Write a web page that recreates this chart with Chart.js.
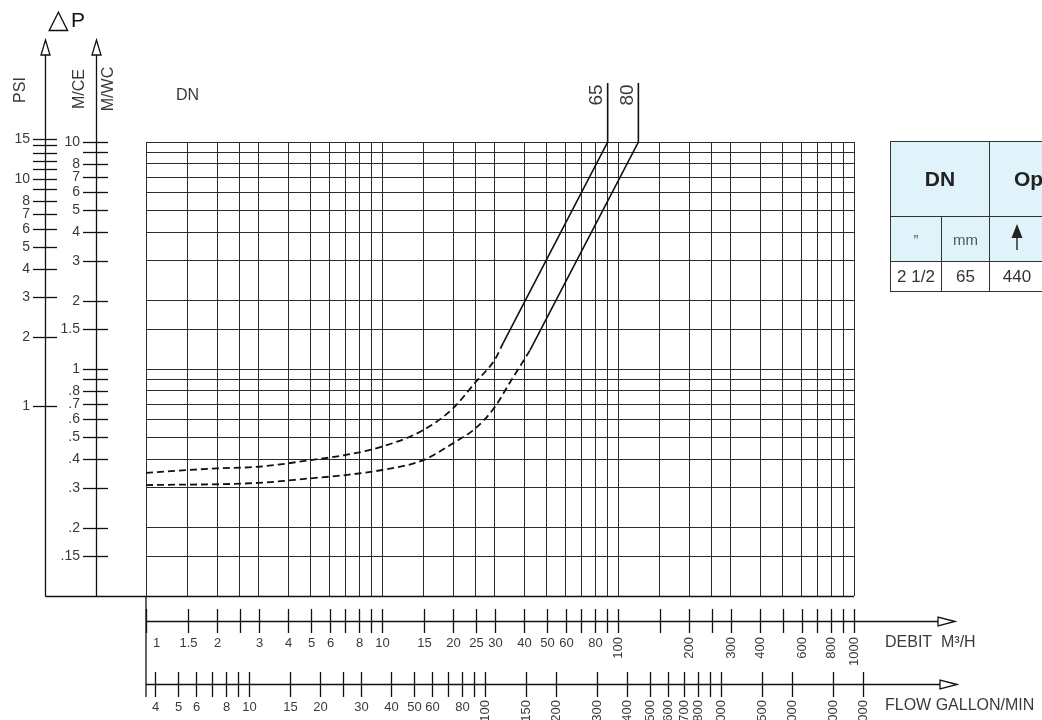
<!DOCTYPE html>
<html>
<head>
<meta charset="utf-8">
<title>DN 65 / DN 80 pressure loss</title>
<script src="https://cdn.jsdelivr.net/npm/chart.js@4.4.0/dist/chart.umd.min.js"></script>
<style>
  html, body { margin: 0; padding: 0; background: #fff; }
  #wrap { position: relative; width: 1042px; height: 720px; overflow: hidden; }
  #chart { position: absolute; left: 0; top: 0; }
  table.dn {
    position: absolute; left: 890px; top: 141px; width: 274px;
    border-collapse: collapse; table-layout: fixed;
    font-family: "Liberation Sans", Arial, sans-serif; color: #333;
  }
  table.dn td { border: 1px solid #333; padding: 0; text-align: center; vertical-align: middle; white-space: nowrap; }
  table.dn tr.head td { background: #e0f2fa; }
  table.dn td.big { font-size: 21px; font-weight: bold; color: #222; }
  table.dn td.op { text-align: left; padding-left: 24px; }
  table.dn td.unit { font-size: 15px; color: #555; }
  table.dn td.val { font-size: 17px; }
</style>
</head>
<body>
<div id="wrap">
  <canvas id="chart" width="1042" height="720"></canvas>
  <table class="dn">
    <colgroup><col style="width:51px"><col style="width:48px"><col style="width:55px"><col style="width:120px"></colgroup>
    <tr class="head" style="height:75px"><td class="big" colspan="2">DN</td><td class="big op" colspan="2">Op</td></tr>
    <tr class="head" style="height:45px">
      <td class="unit">&rdquo;</td><td class="unit">mm</td>
      <td><svg width="12" height="26" viewBox="0 0 12 26"><polygon points="6,0 11.5,14 0.5,14" fill="#222"/><line x1="6" y1="12" x2="6" y2="26" stroke="#222" stroke-width="1.4"/></svg></td>
      <td></td>
    </tr>
    <tr style="height:30px"><td class="val">2 1/2</td><td class="val">65</td><td class="val">440</td><td></td></tr>
  </table>
</div>
<script>
// grid of the chart (flow in m3/h, pressure loss in m of water column)
const gridFlow = [1, 1.5, 2, 2.5, 3, 4, 5, 6, 7, 8, 9, 10, 15, 20, 25, 30, 40, 50, 60, 70, 80, 90,
                  100, 150, 200, 250, 300, 400, 500, 600, 700, 800, 900, 1000];
const debitLabels = ['1', '1.5', '2', '', '3', '4', '5', '6', '', '8', '', '10', '15', '20', '25', '30', '40', '50', '60', '', '80', '',
                     '100', '', '200', '', '300', '400', '', '600', '', '800', '', '1000'];
const gridLoss = [0.15, 0.2, 0.3, 0.4, 0.5, 0.6, 0.7, 0.8, 0.9, 1, 1.5, 2, 3, 4, 5, 6, 7, 8, 9, 10];
const lossLabels = ['.15', '.2', '.3', '.4', '.5', '.6', '.7', '.8', '', '1', '1.5', '2', '3', '4', '5', '6', '7', '8', '', '10'];

// secondary scales
const psiValues = [1, 2, 3, 4, 5, 6, 7, 8, 9, 10, 11, 12, 13, 14, 15];
const psiLabels = ['1', '2', '3', '4', '5', '6', '7', '8', '', '10', '', '', '', '', '15'];
const gallonValues = [4, 5, 6, 7, 8, 9, 10, 15, 20, 25, 30, 40, 50, 60, 70, 80, 90,
                      100, 150, 200, 300, 400, 500, 600, 700, 800, 900, 1000, 1500, 2000, 3000, 4000];
const gallonLabels = ['4', '5', '6', '', '8', '', '10', '15', '20', '', '30', '40', '50', '60', '', '80', '',
                      '100', '150', '200', '300', '400', '500', '600', '700', '800', '', '1000', '1500', '2000', '3000', '4000'];
const MWC_PER_PSI = 0.69;
const GAL_PER_M3H = 3.666;

// curves: dashed low-flow part, then solid part and the label stem
const dn65DashFlow = [1, 2, 3, 5, 7, 10, 15, 20, 25, 30, 32.6];
const dn65DashLoss = [0.349, 0.365, 0.371, 0.397, 0.418, 0.455, 0.539, 0.671, 0.879, 1.096, 1.30];
const dn65Flow = [32.6, 90.4, 90.4];
const dn65Loss = [1.30, 10, 18.2];

const dn80DashFlow = [1, 3, 5, 7, 10, 15, 20, 25, 30, 35, 42.4];
const dn80DashLoss = [0.308, 0.315, 0.330, 0.341, 0.359, 0.397, 0.471, 0.55, 0.678, 0.879, 1.21];
const dn80Flow = [42.4, 122, 122];
const dn80Loss = [1.21, 10, 18.2];

function pts(xs, ys) {
    return xs.map((x, i) => ({ x: x, y: ys[i] }));
}

const FONT = '"Liberation Sans", Arial, sans-serif';
const INK = '#3a3a3a';

// everything around the grid: side axes, flow axes, titles
const extras = {
    id: 'extras',
    afterDraw(chart) {
        const ctx = chart.ctx;
        const xs = chart.scales.x, ys = chart.scales.y;
        const area = chart.chartArea;
        const line = (x1, y1, x2, y2) => { ctx.beginPath(); ctx.moveTo(x1, y1); ctx.lineTo(x2, y2); ctx.stroke(); };
        const text = (s, x, y, size, align, rot) => {
            ctx.save();
            ctx.font = size + 'px ' + FONT;
            ctx.textAlign = align;
            ctx.textBaseline = 'middle';
            ctx.translate(x, y);
            if (rot) ctx.rotate(-Math.PI / 2);
            ctx.fillText(s, 0, 0);
            ctx.restore();
        };
        const upArrow = (x, tip) => {
            ctx.beginPath(); ctx.moveTo(x, tip); ctx.lineTo(x - 4.5, tip + 15); ctx.lineTo(x + 4.5, tip + 15); ctx.closePath();
            ctx.fillStyle = '#fff'; ctx.fill(); ctx.stroke();
        };
        const rightArrow = (tip, y) => {
            ctx.beginPath(); ctx.moveTo(tip, y); ctx.lineTo(tip - 17, y - 4.5); ctx.lineTo(tip - 17, y + 4.5); ctx.closePath();
            ctx.fillStyle = '#fff'; ctx.fill(); ctx.stroke();
        };

        ctx.save();
        ctx.strokeStyle = '#111';
        ctx.lineWidth = 1.3;

        const bottom = Math.round(ys.getPixelForValue(0.1)) + 0.5;
        const psiX = 45.5, mceX = 96.5;
        line(psiX, 55, psiX, bottom);
        line(mceX, 55, mceX, bottom);
        line(psiX, bottom, area.right, bottom);
        line(area.left, bottom, area.left, 697);
        upArrow(psiX, 40);
        upArrow(mceX, 40);

        ctx.fillStyle = INK;
        psiValues.forEach((v, i) => {
            const y = Math.round(ys.getPixelForValue(v * MWC_PER_PSI)) + 0.5;
            line(33, y, 57, y);
            if (psiLabels[i]) text(psiLabels[i], 30, y, 14, 'right');
        });
        gridLoss.forEach((v, i) => {
            const y = Math.round(ys.getPixelForValue(v)) + 0.5;
            line(83, y, 108, y);
            if (lossLabels[i]) text(lossLabels[i], 80, y, 14, 'right');
        });

        // DEBIT m3/h axis
        const y1 = 621.5;
        line(area.left, y1, 938, y1);
        rightArrow(955, y1);
        ctx.fillStyle = INK;
        gridFlow.forEach((v, i) => {
            const x = Math.round(xs.getPixelForValue(v)) + 0.5;
            line(x, 609, x, 633);
            const s = debitLabels[i];
            if (!s) return;
            if (v < 100) text(s, v === 1 ? x + 10 : x, 643, 13, 'center');
            else text(s, x, 637, 13, 'right', true);
        });

        // FLOW gallon/min axis
        const y2 = 684.5;
        line(area.left, y2, 940, y2);
        rightArrow(957, y2);
        ctx.fillStyle = INK;
        gallonValues.forEach((g, i) => {
            const x = Math.round(xs.getPixelForValue(g / GAL_PER_M3H)) + 0.5;
            line(x, 672, x, 697);
            const s = gallonLabels[i];
            if (!s) return;
            if (g < 100) text(s, x, 707, 13, 'center');
            else text(s, x, 700, 13, 'right', true);
        });

        // titles
        ctx.fillStyle = INK;
        text('DEBIT  M\u00b3/H', 885, 643, 16, 'left');
        text('FLOW GALLON/MIN', 885, 706, 16, 'left');
        ctx.fillStyle = '#111';
        text('\u25b3', 48, 21, 27, 'left');
        text('P', 71, 21, 21, 'left');
        ctx.fillStyle = INK;
        text('PSI', 21, 90, 16, 'center', true);
        text('M/CE', 80, 89, 16, 'center', true);
        text('M/WC', 109, 89, 16, 'center', true);
        text('DN', 176, 96, 16, 'left');
        text('65', xs.getPixelForValue(dn65Flow[2]) - 11, 95, 19, 'center', true);
        text('80', xs.getPixelForValue(dn80Flow[2]) - 11, 95, 19, 'center', true);
        ctx.restore();
    }
};

const dashStyle = { borderColor: '#111', borderWidth: 1.8, borderDash: [7, 4], pointRadius: 0, cubicInterpolationMode: 'monotone', clip: false };
const solidStyle = { borderColor: '#111', borderWidth: 1.6, pointRadius: 0, tension: 0, clip: false };

new Chart(document.getElementById('chart'), {
    type: 'line',
    data: {
        datasets: [
            Object.assign({ label: 'DN 65', data: pts(dn65DashFlow, dn65DashLoss) }, dashStyle),
            Object.assign({ label: 'DN 65', data: pts(dn65Flow, dn65Loss) }, solidStyle),
            Object.assign({ label: 'DN 80', data: pts(dn80DashFlow, dn80DashLoss) }, dashStyle),
            Object.assign({ label: 'DN 80', data: pts(dn80Flow, dn80Loss) }, solidStyle)
        ]
    },
    options: {
        responsive: false,
        animation: false,
        devicePixelRatio: 1,
        layout: { padding: { left: 146, top: 142, right: 188, bottom: 124 } },
        plugins: { legend: { display: false }, tooltip: { enabled: false } },
        scales: {
            x: {
                type: 'logarithmic', min: 1, max: 1000,
                ticks: { display: false },
                grid: { color: '#2b2b2b', lineWidth: 1, drawTicks: false },
                border: { display: false },
                afterBuildTicks: s => { s.ticks = gridFlow.map(v => ({ value: v })); },
                afterFit: s => { s.height = 0; }
            },
            y: {
                type: 'logarithmic', min: 0.1, max: 10,
                ticks: { display: false },
                grid: { color: '#2b2b2b', lineWidth: 1, drawTicks: false },
                border: { display: false },
                afterBuildTicks: s => { s.ticks = gridLoss.map(v => ({ value: v })); },
                afterFit: s => { s.width = 0; }
            }
        }
    },
    plugins: [extras]
});
</script>
</body>
</html>
